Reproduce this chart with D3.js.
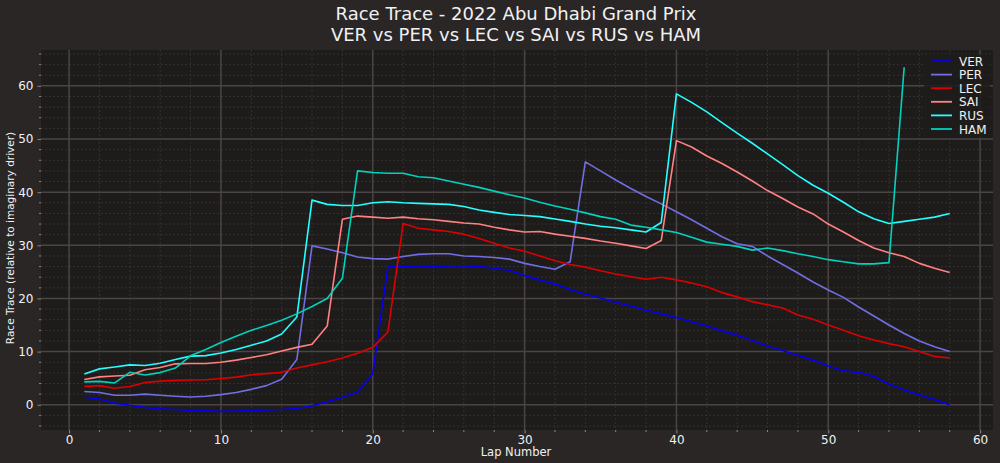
<!DOCTYPE html>
<html>
<head>
<meta charset="utf-8">
<script src="https://cdn.jsdelivr.net/npm/d3@7"></script>
<style>
html,body{margin:0;padding:0;background:#292625;}
svg{display:block;}
text{font-family:"DejaVu Sans","Noto Sans",sans-serif;fill:#f1f1f3;}
</style>
</head>
<body>
<svg id="chart" width="1000" height="463"></svg>
<script>
const laps = d3.range(1, 59);
const drivers = ["VER", "PER", "LEC", "SAI", "RUS", "HAM"];
const driverColors = ["#0600ef", "#716de2", "#dc0000", "#ff8181", "#24ffff", "#00d2be"];
const xTicks = [0, 10, 20, 30, 40, 50, 60];
const yTicks = [0, 10, 20, 30, 40, 50, 60];

const VER = [1.4,1.1,0.3,-0.1,-0.5,-0.75,-0.9,-1.05,-1.15,-1.25,-1.2,-1.1,-1.0,-0.9,-0.7,-0.2,0.55,1.4,2.4,5.8,
  26.1,26.0,25.9,26.0,26.1,26.1,26.0,25.7,25.3,24.3,23.5,22.7,21.7,20.8,20.1,19.3,18.6,17.8,17.1,16.4,
  15.6,14.8,13.9,13.1,12.1,11.0,10.2,9.3,8.4,7.3,6.4,6.1,5.3,3.9,2.8,1.9,1.0,0.0];
const PER = [2.5,2.3,1.8,1.8,2.0,1.8,1.6,1.45,1.6,1.9,2.3,2.9,3.6,4.8,8.5,29.9,29.3,28.6,27.8,27.5,
  27.4,27.9,28.3,28.4,28.4,28.0,27.9,27.7,27.4,26.6,26.0,25.5,26.9,45.7,44.0,42.3,40.7,39.2,37.8,36.3,
  34.8,33.2,31.6,30.3,29.8,28.0,26.4,24.8,23.1,21.6,20.2,18.4,16.7,15.0,13.4,12.0,10.9,10.0];
const LEC = [3.45,3.6,3.1,3.45,4.2,4.45,4.6,4.65,4.7,4.95,5.2,5.65,5.85,6.1,6.9,7.5,8.1,8.8,9.7,10.8,
  13.7,34.1,33.2,32.9,32.6,32.1,31.3,30.4,29.5,28.9,28.0,27.1,26.4,25.9,25.2,24.6,24.1,23.6,24.0,23.5,
  22.9,22.2,21.1,20.3,19.4,18.8,18.2,16.9,16.1,15.0,14.0,13.0,12.2,11.5,10.9,10.0,9.1,8.8];
const SAI = [4.75,5.25,5.4,5.55,6.6,7.0,7.7,7.75,7.75,8.0,8.4,8.9,9.4,10.1,10.8,11.4,14.8,34.9,35.5,35.3,
  35.1,35.3,35.0,34.8,34.5,34.2,34.0,33.4,32.9,32.5,32.6,32.1,31.7,31.3,30.8,30.4,29.9,29.4,30.9,49.7,
  48.5,46.8,45.4,43.8,42.1,40.3,38.8,37.2,35.9,34.0,32.5,30.9,29.5,28.6,27.9,26.6,25.7,24.9];
const RUS = [5.8,6.75,7.1,7.5,7.4,7.8,8.5,9.15,9.25,9.75,10.4,11.2,12.0,13.3,16.5,38.5,37.7,37.5,37.5,38.0,
  38.2,38.0,37.9,37.8,37.7,37.3,36.65,36.2,35.8,35.6,35.4,34.95,34.5,34.0,33.6,33.3,32.9,32.5,34.3,58.5,
  56.9,55.1,53.1,51.1,49.2,47.2,45.2,43.1,41.3,39.8,38.1,36.3,35.0,34.1,34.5,34.9,35.3,36.0];
const HAM = [4.3,4.4,4.1,6.1,5.6,6.05,6.9,9.2,10.4,11.7,12.9,14.0,14.9,15.9,17.1,18.5,20.0,23.8,44.0,43.7,
  43.55,43.55,42.9,42.7,42.1,41.5,40.9,40.2,39.5,38.9,38.1,37.4,36.8,36.1,35.4,34.9,33.8,33.4,32.9,32.4,
  31.5,30.6,30.2,29.8,29.1,29.5,29.0,28.4,27.9,27.3,26.9,26.5,26.5,26.75,63.5];

const seriesValues = [VER, PER, LEC, SAI, RUS, HAM];

const W = 1000, H = 463;
const m = {left: 41, right: 7, top: 50, bottom: 33};
const svg = d3.select("#chart");

svg.append("rect").attr("width", W).attr("height", H).attr("fill", "#292625");

const x = d3.scaleLinear().domain([-1.85, 60.85]).range([m.left, W - m.right]);
const y = d3.scaleLinear().domain([-4.75, 66.75]).range([H - m.bottom, m.top]);

svg.append("rect")
  .attr("x", m.left).attr("y", m.top)
  .attr("width", W - m.right - m.left).attr("height", H - m.bottom - m.top)
  .attr("fill", "#1e1c1b");

const g = svg.append("g");

// minor grid
const xMinor = d3.range(0, 61, 2).filter(v => v % 10 !== 0);
const yMinor = d3.range(-4, 67, 2).filter(v => v % 10 !== 0);
g.selectAll(".xmin").data(xMinor).join("line")
  .attr("x1", d => x(d)).attr("x2", d => x(d))
  .attr("y1", m.top).attr("y2", H - m.bottom)
  .attr("stroke", "#3a3634").attr("stroke-width", 0.8).attr("stroke-dasharray", "2,2");
g.selectAll(".ymin").data(yMinor).join("line")
  .attr("y1", d => y(d)).attr("y2", d => y(d))
  .attr("x1", m.left).attr("x2", W - m.right)
  .attr("stroke", "#3a3634").attr("stroke-width", 0.8).attr("stroke-dasharray", "2,2");
// major grid
g.selectAll(".xmaj").data(xTicks).join("line")
  .attr("x1", d => x(d)).attr("x2", d => x(d))
  .attr("y1", m.top).attr("y2", H - m.bottom)
  .attr("stroke", "#4a4544").attr("stroke-width", 1.5);
g.selectAll(".ymaj").data(yTicks).join("line")
  .attr("y1", d => y(d)).attr("y2", d => y(d))
  .attr("x1", m.left).attr("x2", W - m.right)
  .attr("stroke", "#4a4544").attr("stroke-width", 1.5);

// axes
const xAxis = d3.axisBottom(x).tickValues(xTicks).tickSize(3.5).tickPadding(1.5);
const yAxis = d3.axisLeft(y).tickValues(yTicks).tickSize(3.5).tickPadding(4);
const xa = svg.append("g").attr("transform", `translate(0,${H - m.bottom})`).call(xAxis);
const ya = svg.append("g").attr("transform", `translate(${m.left},0)`).call(yAxis);
[xa, ya].forEach(a => {
  a.select(".domain").remove();
  a.selectAll(".tick line").attr("stroke", "#8a8685");
  a.selectAll(".tick text").attr("fill", "#f1f1f3").style("font-size", "12px");
});
// minor ticks
svg.append("g").selectAll("line").data(xMinor).join("line")
  .attr("x1", d => x(d)).attr("x2", d => x(d))
  .attr("y1", H - m.bottom).attr("y2", H - m.bottom + 2)
  .attr("stroke", "#8a8685");
svg.append("g").selectAll("line").data(yMinor).join("line")
  .attr("y1", d => y(d)).attr("y2", d => y(d))
  .attr("x1", m.left).attr("x2", m.left - 2)
  .attr("stroke", "#8a8685");

// lines
const line = d3.line().x((d, i) => x(laps[i])).y(d => y(d));
svg.append("g").selectAll("path").data(seriesValues).join("path")
  .attr("d", d => line(d))
  .attr("fill", "none")
  .attr("stroke", (d, i) => driverColors[i])
  .attr("stroke-width", 1.6)
  .attr("stroke-linejoin", "round");

// titles
svg.append("text").attr("x", 516).attr("y", 20).attr("text-anchor", "middle")
  .style("font-size", "18px").text("Race Trace - 2022 Abu Dhabi Grand Prix");
svg.append("text").attr("x", 516).attr("y", 41).attr("text-anchor", "middle")
  .style("font-size", "18px").text("VER vs PER vs LEC vs SAI vs RUS vs HAM");
svg.append("text").attr("x", 516).attr("y", 456).attr("text-anchor", "middle")
  .style("font-size", "11.5px").text("Lap Number");
svg.append("text").attr("transform", "translate(14,238) rotate(-90)").attr("text-anchor", "middle")
  .style("font-size", "10.5px").text("Race Trace (relative to imaginary driver)");

// legend
const lg = svg.append("g");
lg.append("rect").attr("x", 924).attr("y", 54).attr("width", 66).attr("height", 84)
  .attr("fill", "#1e1c1b").attr("opacity", 0.85).attr("rx", 2);
drivers.forEach((dname, i) => {
  const yy = 61 + i * 13.6;
  lg.append("line").attr("x1", 931).attr("x2", 952).attr("y1", yy).attr("y2", yy)
    .attr("stroke", driverColors[i]).attr("stroke-width", 1.8);
  lg.append("text").attr("x", 959).attr("y", yy + 4.5).style("font-size", "12px").text(dname);
});
</script>
</body>
</html>
